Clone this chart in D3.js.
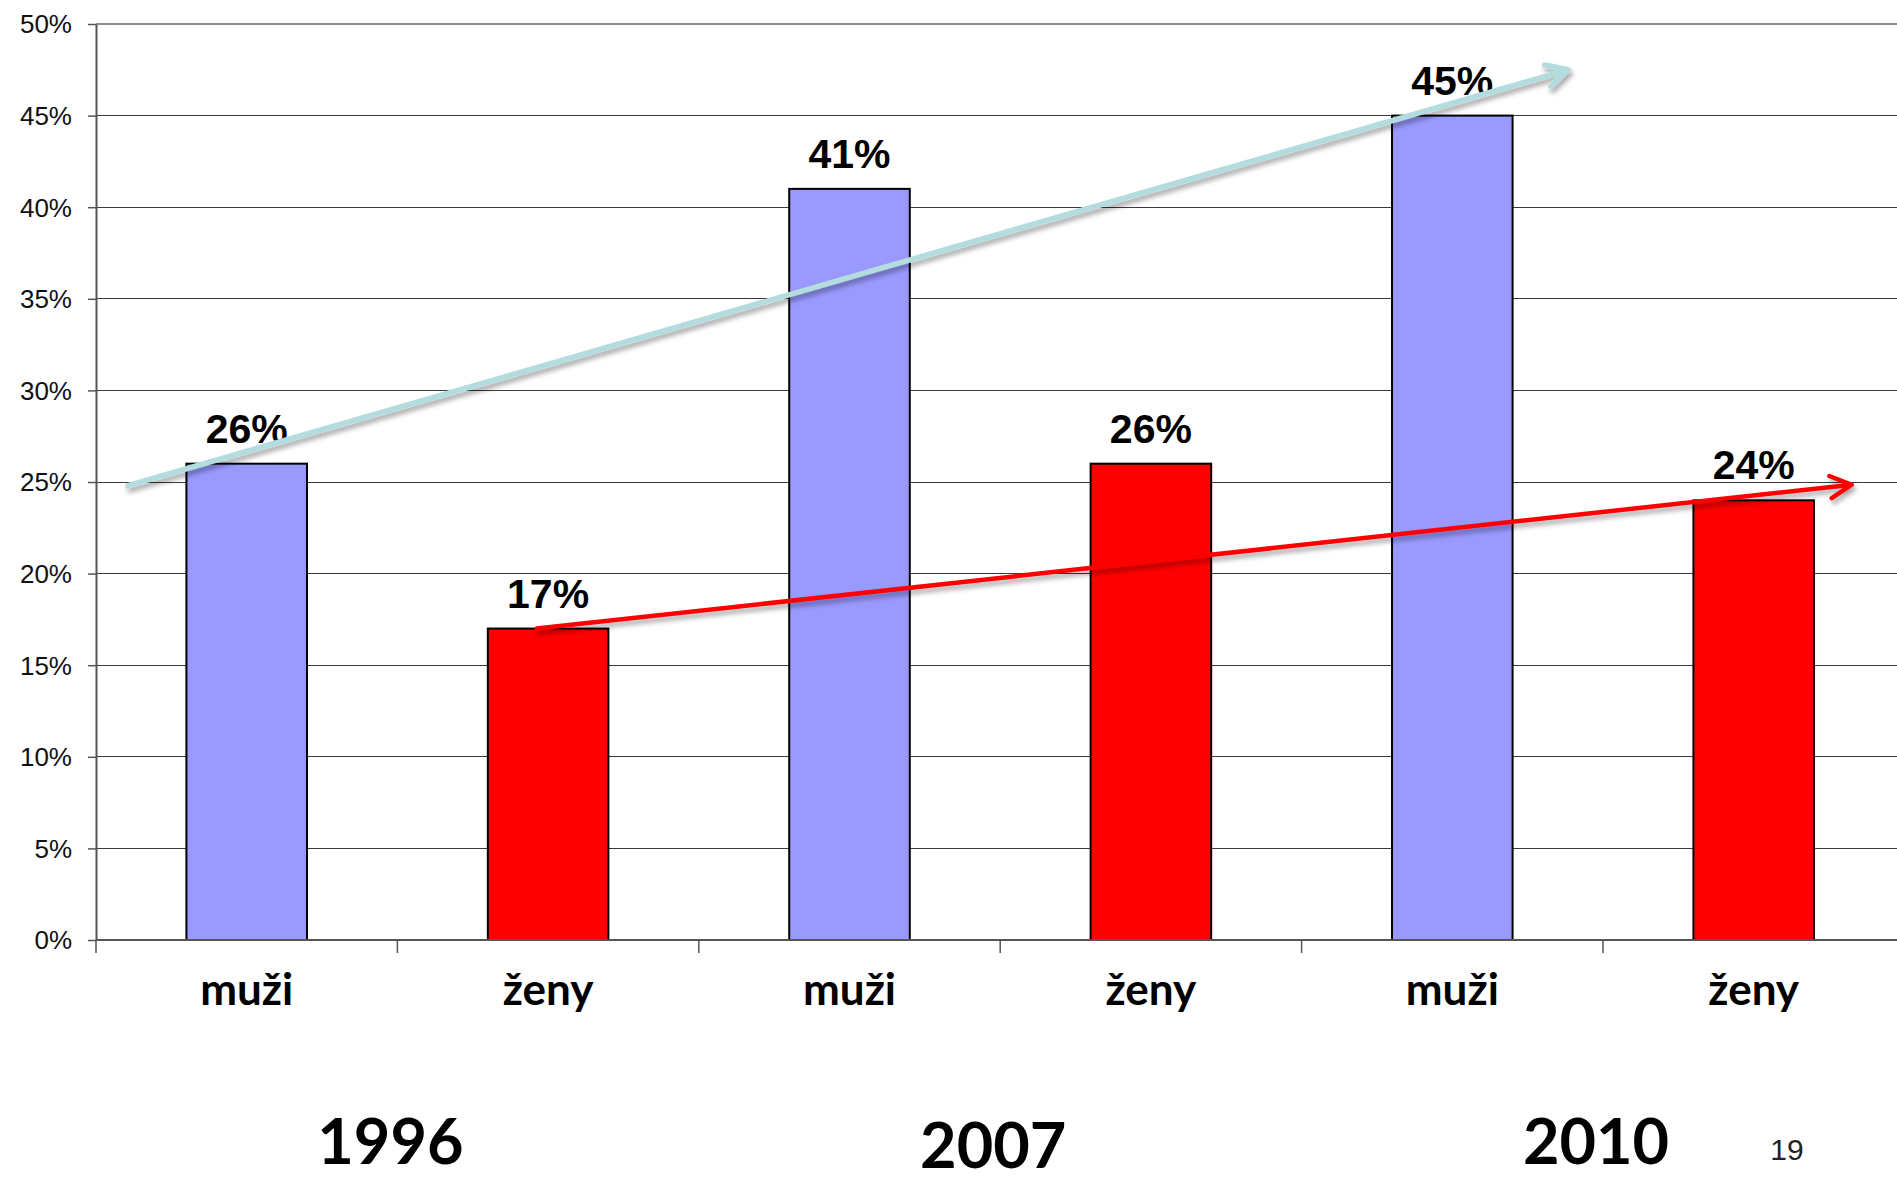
<!DOCTYPE html>
<html>
<head>
<meta charset="utf-8">
<script src="https://cdn.jsdelivr.net/npm/d3@7"></script>
<style>
  html, body { margin: 0; padding: 0; background: #fff; overflow: hidden; }
  svg { display: block; }
</style>
</head>
<body>
<script>
// ---- data ----
const categories = ["muži", "ženy", "muži", "ženy", "muži", "ženy"];
const values = [26, 17, 41, 26, 45, 24];
const barColors = ["#9999ff", "#ff0000", "#9999ff", "#ff0000", "#9999ff", "#ff0000"];
const years = ["1996", "2007", "2010"];
const yearPos = [1, 3, 5];           // position along the category axis (group boundary units)
const yearDrop = [0, 4, 0];          // 2007 sits slightly lower in the picture
const yTicks = [0, 5, 10, 15, 20, 25, 30, 35, 40, 45, 50];
// trend arrows, in data units: x = position along category axis (0..6), y = percent
const arrowsX0 = [0.106, 1.462];
const arrowsY0 = [24.8, 17.0];
const arrowsX1 = [4.884, 5.825];
const arrowsY1 = [47.5, 24.85];
const arrowColors = ["#b3dcdf", "#ff0000"];
const arrowWidths = [5.5, 4.5];
const pageNumber = "19";

// ---- layout ----
const W = 1897, H = 1186;
const mLeft = 96, mTop = 24, mBottom = 940;
const step = 301.4;
const mRight = mLeft + step * categories.length;

const svg = d3.select("body").append("svg").attr("width", W).attr("height", H);

const defs = svg.append("defs");
const f = defs.append("filter").attr("id", "shadow")
  .attr("x", "-5%").attr("y", "-50%").attr("width", "110%").attr("height", "200%");
f.append("feDropShadow").attr("dx", 2).attr("dy", 4).attr("stdDeviation", 2.5)
  .attr("flood-color", "#000").attr("flood-opacity", 0.35);

const x = d3.scaleBand().domain(d3.range(categories.length)).range([mLeft, mRight]).paddingInner(0.6).paddingOuter(0.3);
const xLin = d3.scaleLinear().domain([0, categories.length]).range([mLeft, mRight]);
const y = d3.scaleLinear().domain([0, 50]).range([mBottom, mTop]);

// gridlines
svg.append("g").selectAll("line").data(yTicks.filter(t => t > 0)).join("line")
  .attr("x1", mLeft).attr("x2", W)
  .attr("y1", d => y(d)).attr("y2", d => y(d))
  .attr("stroke", d => d === 50 ? "#8c8c8c" : "#3a3a3a")
  .attr("stroke-width", d => d === 50 ? 2 : 1)
  .attr("shape-rendering", "crispEdges");

// y axis
const yAxis = d3.axisLeft(y).tickValues(yTicks).tickFormat(d => d + "%").tickSize(8).tickSizeOuter(0);
const gy = svg.append("g").attr("transform", `translate(${mLeft},0)`).call(yAxis);
gy.select(".domain").attr("stroke", "#555").attr("stroke-width", 2);
gy.selectAll(".tick line").attr("stroke", "#555").attr("stroke-width", 1.5);
gy.selectAll(".tick text")
  .attr("font-family", "'Liberation Sans', Arial, sans-serif")
  .attr("font-size", 26).attr("fill", "#111").attr("x", -24).attr("dy", "0.34em");

// bars
svg.append("g").selectAll("rect").data(values).join("rect")
  .attr("x", (d, i) => x(i))
  .attr("width", x.bandwidth())
  .attr("y", d => y(d))
  .attr("height", d => mBottom - y(d))
  .attr("fill", (d, i) => barColors[i])
  .attr("stroke", "#000").attr("stroke-width", 2);

// x axis
const gx = svg.append("g").attr("transform", `translate(0,${mBottom})`);
gx.append("line").attr("x1", mLeft).attr("x2", W).attr("y1", 0).attr("y2", 0)
  .attr("stroke", "#555").attr("stroke-width", 2);
gx.selectAll("line.tk").data(d3.range(categories.length + 1)).join("line").attr("class", "tk")
  .attr("x1", d => xLin(d)).attr("x2", d => xLin(d)).attr("y1", 0).attr("y2", 13)
  .attr("stroke", "#555").attr("stroke-width", 1.5);
gx.selectAll("text").data(categories).join("text")
  .attr("x", (d, i) => x(i) + x.bandwidth() / 2)
  .attr("y", 65)
  .attr("text-anchor", "middle")
  .attr("font-family", "Lato, 'Open Sans', sans-serif")
  .attr("font-weight", "bold").attr("font-size", 44).attr("fill", "#000")
  .text(d => d);

// value labels
svg.append("g").selectAll("text").data(values).join("text")
  .attr("x", (d, i) => x(i) + x.bandwidth() / 2)
  .attr("y", d => y(d) - 21)
  .attr("text-anchor", "middle")
  .attr("font-family", "'Liberation Sans', Arial, sans-serif")
  .attr("font-weight", "bold").attr("font-size", 41).attr("fill", "#000")
  .text(d => d + "%");

// arrows
const arrows = arrowsX0.map((v, i) => ({
  x0: xLin(v), y0: y(arrowsY0[i]), x1: xLin(arrowsX1[i]), y1: y(arrowsY1[i]),
  color: arrowColors[i], w: arrowWidths[i]
}));
const ag = svg.append("g").selectAll("g").data(arrows).join("g").attr("filter", "url(#shadow)");
ag.append("path")
  .attr("d", a => {
    const ang = Math.atan2(a.y1 - a.y0, a.x1 - a.x0);
    const L = 24, spread = Math.PI / 6.5;
    const p1 = [a.x1 - L * Math.cos(ang - spread), a.y1 - L * Math.sin(ang - spread)];
    const p2 = [a.x1 - L * Math.cos(ang + spread), a.y1 - L * Math.sin(ang + spread)];
    return `M${a.x0},${a.y0}L${a.x1},${a.y1}M${p1[0]},${p1[1]}L${a.x1},${a.y1}L${p2[0]},${p2[1]}`;
  })
  .attr("fill", "none").attr("stroke", a => a.color).attr("stroke-width", a => a.w)
  .attr("stroke-linecap", "round").attr("stroke-linejoin", "round");

// year labels
svg.append("g").selectAll("text").data(years).join("text")
  .attr("x", (d, i) => xLin(yearPos[i]) - 7)
  .attr("y", (d, i) => 1164 + yearDrop[i])
  .attr("text-anchor", "middle")
  .attr("font-family", "Lato, 'Open Sans', sans-serif")
  .attr("font-weight", "bold").attr("font-size", 63).attr("fill", "#000")
  .text(d => d);

// page number
svg.append("text").attr("x", 1787).attr("y", 1160).attr("text-anchor", "middle")
  .attr("font-family", "'Liberation Sans', Arial, sans-serif")
  .attr("font-size", 30).attr("fill", "#222").text(pageNumber);
</script>
</body>
</html>
